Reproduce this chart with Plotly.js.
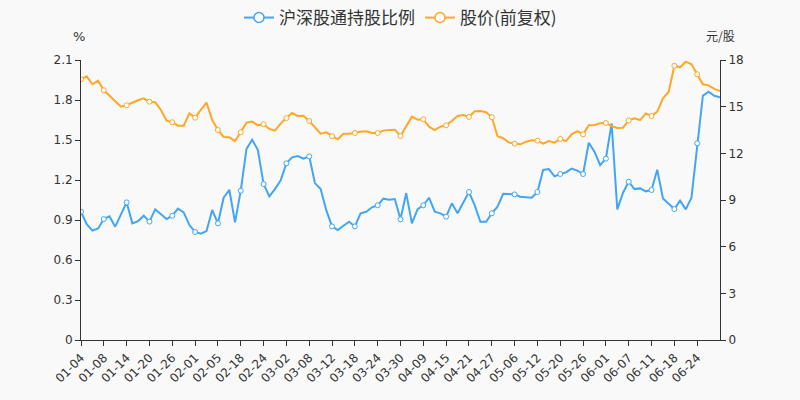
<!DOCTYPE html>
<html>
<head>
<meta charset="utf-8">
<script src="https://cdn.plot.ly/plotly-3.0.1.min.js"></script>
<style>
html,body{margin:0;padding:0;background:#f9f9f9;}
#chart{width:800px;height:400px;}
</style>
</head>
<body>
<div id="chart"></div>
<script>
// Trading dates (2021)
const dates = [
  "01-04","01-05","01-06","01-07","01-08","01-11","01-12","01-13","01-14","01-15",
  "01-18","01-19","01-20","01-21","01-22","01-25","01-26","01-27","01-28","01-29",
  "02-01","02-02","02-03","02-04","02-05","02-08","02-09","02-10","02-18","02-19",
  "02-22","02-23","02-24","02-25","02-26","03-01","03-02","03-03","03-04","03-05",
  "03-08","03-09","03-10","03-11","03-12","03-15","03-16","03-17","03-18","03-19",
  "03-22","03-23","03-24","03-25","03-26","03-29","03-30","03-31","04-07","04-08",
  "04-09","04-12","04-13","04-14","04-15","04-16","04-19","04-20","04-21","04-22",
  "04-23","04-26","04-27","04-28","04-29","04-30","05-06","05-07","05-10","05-11",
  "05-12","05-13","05-14","05-17","05-20","05-21","05-24","05-25","05-26","05-27",
  "05-28","05-31","06-01","06-02","06-03","06-04","06-07","06-08","06-09","06-10",
  "06-11","06-15","06-16","06-17","06-18","06-21","06-22","06-23","06-24","06-25",
  "06-28","06-29","06-30"
];

// 沪深股通持股比例 (%)
const holdRatio = [
  0.962,0.868,0.82,0.837,0.907,0.927,0.85,0.942,1.032,0.875,
  0.892,0.932,0.888,0.98,0.945,0.907,0.932,0.985,0.957,0.862,
  0.81,0.797,0.817,0.975,0.875,1.067,1.127,0.882,1.12,1.432,
  1.502,1.425,1.17,1.077,1.132,1.197,1.325,1.37,1.38,1.36,
  1.377,1.177,1.132,0.972,0.852,0.825,0.857,0.887,0.852,0.95,
  0.962,0.995,1.01,1.06,1.052,1.057,0.905,1.102,0.875,0.982,
  1.01,1.067,0.962,0.95,0.925,1.025,0.95,1.035,1.11,1.012,
  0.887,0.887,0.95,1.0,1.097,1.095,1.092,1.075,1.072,1.067,
  1.11,1.275,1.282,1.227,1.245,1.257,1.285,1.27,1.245,1.48,
  1.412,1.312,1.36,1.625,0.98,1.105,1.187,1.132,1.137,1.115,
  1.125,1.277,1.062,1.02,0.982,1.045,0.98,1.067,1.475,1.832,
  1.862,1.832,1.82
];

// 股价(前复权) (元/股)
const price = [
  16.76,16.95,16.44,16.67,16.05,15.71,15.37,15.0,15.09,15.26,
  15.41,15.54,15.32,15.28,14.79,14.10,14.0,13.78,13.78,14.57,
  14.29,14.79,15.26,14.14,13.5,13.05,13.03,12.79,13.35,13.97,
  14.04,13.8,13.87,13.57,13.46,13.91,14.27,14.59,14.4,14.42,
  14.08,13.65,13.26,13.35,13.11,12.9,13.26,13.26,13.31,13.39,
  13.42,13.31,13.31,13.46,13.5,13.52,13.11,13.78,14.36,14.16,
  14.19,13.71,13.5,13.71,13.8,14.08,14.4,14.46,14.34,14.7,
  14.72,14.64,14.32,13.1,12.97,12.69,12.62,12.58,12.75,12.84,
  12.81,12.62,12.79,12.69,12.92,12.79,13.22,13.42,13.22,13.8,
  13.82,13.93,13.95,13.74,13.63,13.65,14.12,14.25,14.14,14.57,
  14.4,14.68,15.54,15.94,17.63,17.53,17.89,17.72,17.08,16.44,
  16.37,16.14,16.0
];

const seriesNames = ["沪深股通持股比例", "股价(前复权)"];
const leftTicks = [0, 0.3, 0.6, 0.9, 1.2, 1.5, 1.8, 2.1];
const leftTickText = ["0", "0.3", "0.6", "0.9", "1.2", "1.5", "1.8", "2.1"];
const rightTicks = [0, 3, 6, 9, 12, 15, 18];
const xTickVals = dates.filter((d, i) => i % 4 === 0 && i < dates.length - 1);

const BLUE = "#42a5f5";
const ORANGE = "#ffa726";
const FONT = "DejaVu Sans, Noto Sans CJK SC, sans-serif";
const CJK = "Noto Sans CJK SC, DejaVu Sans, sans-serif";

const markIdx = dates.map((d, i) => i).filter(i => i % 4 === 0 && i < dates.length - 1);

function sub(arr) { return markIdx.map(i => arr[i]); }

const traces = [
  {x: dates, y: holdRatio, mode: "lines", line: {color: BLUE, width: 2}, showlegend: false, hoverinfo: "skip"},
  {x: sub(dates), y: sub(holdRatio), mode: "markers", showlegend: false, hoverinfo: "skip",
   marker: {symbol: "circle", size: 5, color: "#ffffff", line: {color: BLUE, width: 1}}},
  {x: dates, y: price, yaxis: "y2", mode: "lines", line: {color: ORANGE, width: 2}, showlegend: false, hoverinfo: "skip"},
  {x: sub(dates), y: sub(price), yaxis: "y2", mode: "markers", showlegend: false, hoverinfo: "skip",
   marker: {symbol: "circle", size: 5, color: "#ffffff", line: {color: ORANGE, width: 1}}},
  {x: [null], y: [null], name: seriesNames[0], mode: "lines+markers", line: {color: BLUE, width: 2},
   marker: {symbol: "circle", size: 10, color: "#ffffff", line: {color: BLUE, width: 1.5}}},
  {x: [null], y: [null], yaxis: "y2", name: seriesNames[1], mode: "lines+markers", line: {color: ORANGE, width: 2},
   marker: {symbol: "circle", size: 10, color: "#ffffff", line: {color: ORANGE, width: 1.5}}}
];

const axisCommon = {
  showgrid: false, zeroline: false, showline: true, linecolor: "#333", linewidth: 1,
  ticks: "outside", ticklen: 5, tickcolor: "#333",
  tickfont: {family: FONT, size: 12, color: "#333"}
};

const layout = {
  width: 800, height: 400,
  paper_bgcolor: "#f9f9f9", plot_bgcolor: "#f9f9f9",
  margin: {l: 81, r: 80, t: 60, b: 60},
  font: {family: FONT, color: "#333"},
  showlegend: true,
  legend: {orientation: "h", x: 0.5, xanchor: "center", y: 1, yanchor: "top",
    yref: "container", itemwidth: 30, tracegroupgap: 0,
    font: {family: CJK, size: 17, color: "#333"}, bgcolor: "rgba(0,0,0,0)"},
  xaxis: Object.assign({}, axisCommon, {
    type: "category", range: [0, dates.length - 1], autorange: false,
    tickmode: "array", tickvals: xTickVals, ticktext: xTickVals, tickangle: -45
  }),
  yaxis: Object.assign({}, axisCommon, {
    range: [0, 2.1], autorange: false, tickmode: "array", tickvals: leftTicks, ticktext: leftTickText
  }),
  yaxis2: Object.assign({}, axisCommon, {
    overlaying: "y", side: "right", range: [0, 18], autorange: false,
    tickmode: "array", tickvals: rightTicks
  }),
  annotations: [
    {text: "%", xref: "paper", yref: "paper", x: 0, y: 1, xanchor: "center", yanchor: "bottom",
     yshift: 14, xshift: -2, showarrow: false, font: {family: FONT, size: 13, color: "#333"}},
    {text: "元/股", xref: "paper", yref: "paper", x: 1, y: 1, xanchor: "center", yanchor: "bottom",
     yshift: 14, showarrow: false, font: {family: CJK, size: 12, color: "#333"}}
  ]
};

Plotly.newPlot("chart", traces, layout, {staticPlot: true, displayModeBar: false});
</script>
</body>
</html>
